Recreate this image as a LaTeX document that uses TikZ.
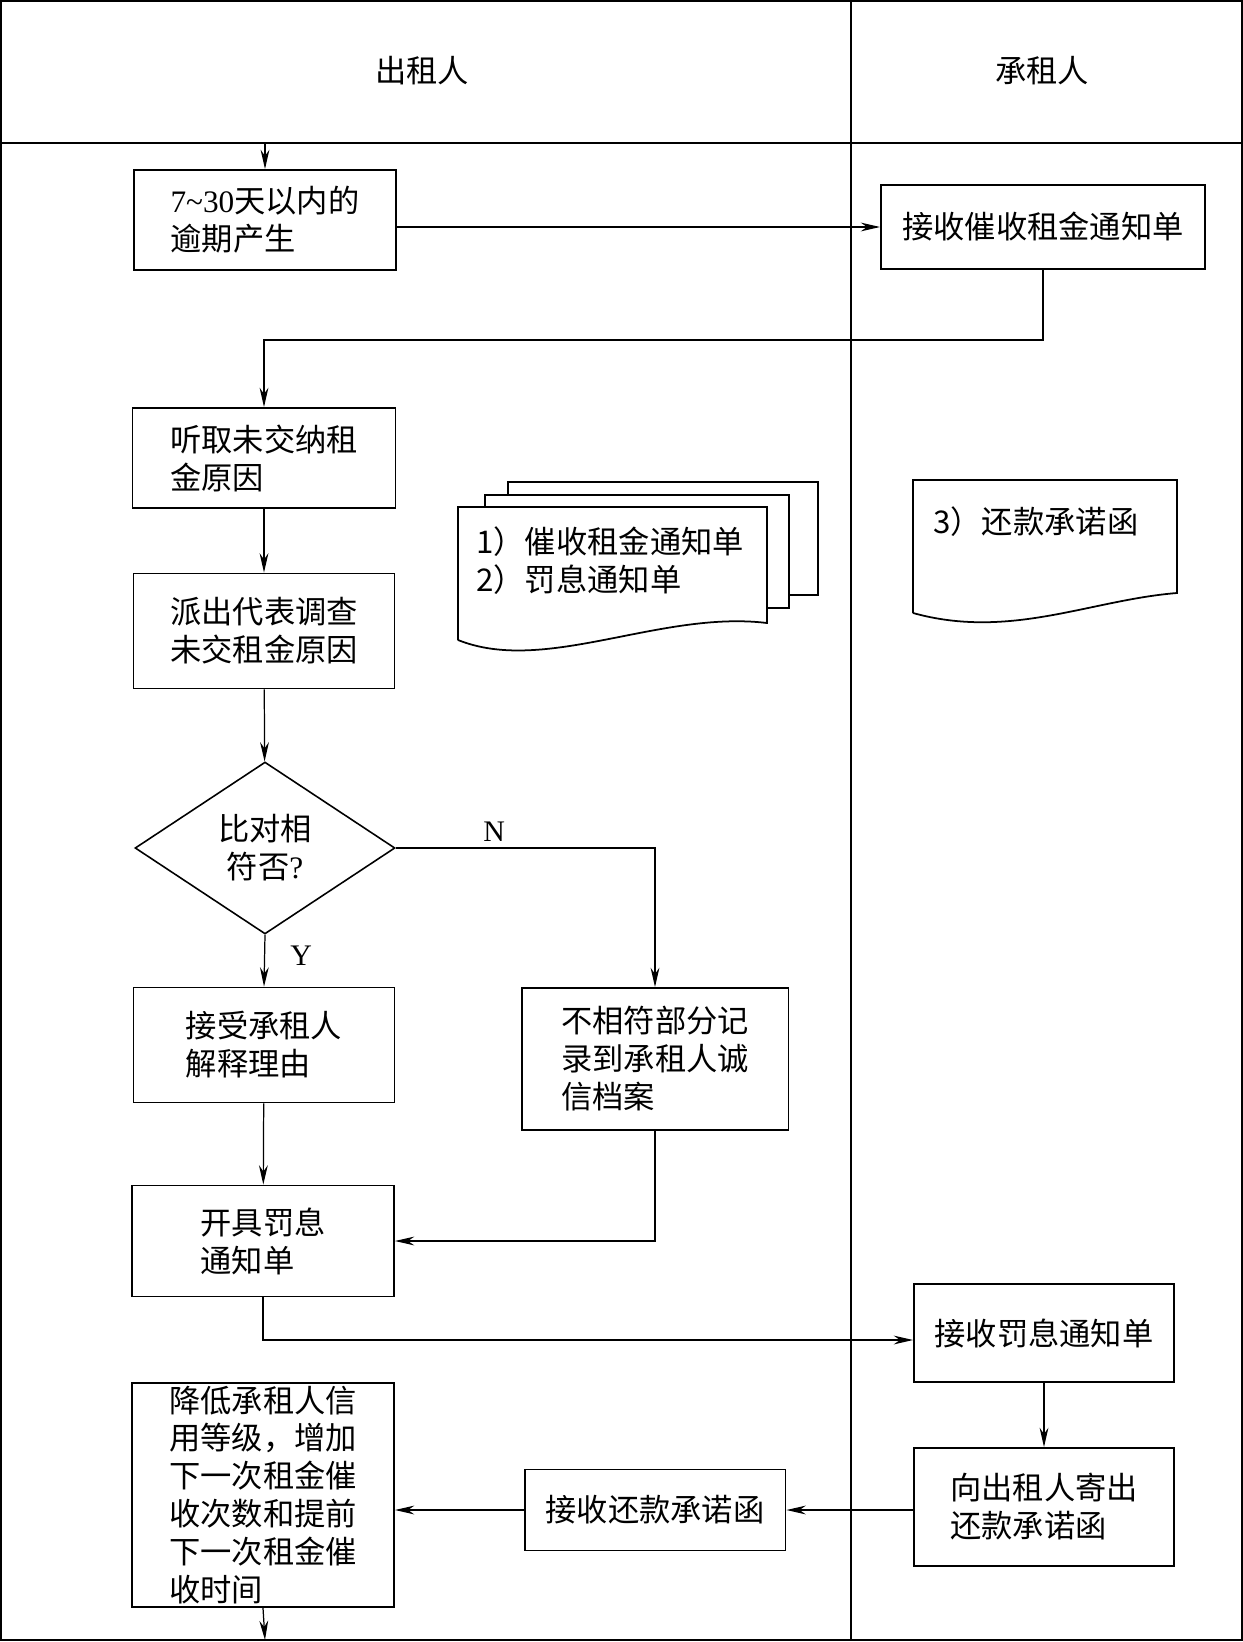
\documentclass[tikz,border=0pt]{standalone}
\usepackage{fontspec}
\setmainfont{Noto Sans CJK SC}
\newfontfamily\latinfont{Liberation Serif}
\usetikzlibrary{positioning,shapes.geometric,arrows.meta}

\begin{document}
\begin{tikzpicture}[x=0.02cm, y=-0.02cm,
    procbox/.style={rectangle, draw, line width=1.1pt, align=left, inner sep=0pt, font=\fontsize{17.8}{21.6}\selectfont},
    decision/.style={diamond, draw, line width=0.9pt, inner sep=0pt, align=center, minimum width=5.2cm, minimum height=3.44cm, font=\fontsize{17.8}{21.6}\selectfont},
    arrowline/.style={->, >={Stealth[length=11pt,width=5pt]}, line width=0.7pt},
    docline/.style={line width=1pt},
    doctext/.style={anchor=west, align=left, inner sep=0pt, font=\fontsize{17.8}{21.6}\selectfont},
    lanelabel/.style={font=\fontsize{17.8}{21.6}\selectfont},
    yesno/.style={font=\latinfont\fontsize{17}{20}\selectfont}
  ]
    \useasboundingbox (0,0) rectangle (1243,1642);

    % Lanes
    \draw[line width=1.3pt] (1,1) rectangle (1242,1640);
    \draw[line width=1.3pt] (1,143) -- (1242,143);
    \draw[line width=0.8pt] (851,1) -- (851,1640);
    \node (lessor) at (422,71) [lanelabel] {出租人};
    \node (lessee) at (1042,71) [lanelabel] {承租人};

    % Overdue and reminder
    \coordinate (entry) at (265,143);
    \node (overdue) at (265,220) [procbox, minimum width=5.24cm, minimum height=2cm] {{\latinfont 7\textasciitilde30}天以内的\\逾期产生};
    \node (recvnote) at (1043,227) [procbox, minimum width=6.48cm, minimum height=1.68cm] {接收催收租金通知单};
    \draw[arrowline] (entry) -- (overdue.north);
    \draw[arrowline] (overdue.east |- recvnote.west) -- (recvnote.west);

    % Investigation
    \node (listen) at (264,458) [procbox, minimum width=5.26cm, minimum height=2cm] {听取未交纳租\\金原因};
    \node (survey) at (264,631) [procbox, minimum width=5.22cm, minimum height=2.3cm] {派出代表调查\\未交租金原因};
    \node (check) at (265,848) [decision] {比对相\\符否{\latinfont ?}};
    \draw[arrowline] (recvnote.south) -- ++(0,70) -| (listen.north);
    \draw[arrowline] (listen) -- (survey);
    \draw[arrowline] (survey) -- (check);

    % Documents
    \draw[docline] (508,495) -- (508,482) -- (818,482) -- (818,595) -- (789,595);
    \draw[docline] (485,507) -- (485,495) -- (789,495) -- (789,608) -- (767,608);
    \draw[docline] (458,640) -- (458,507) -- (767,507) -- (767,623)
      .. controls (660,610) and (545,675) .. (458,640);
    \node (notices) at (476,561) [doctext] {1）催收租金通知单\\2）罚息通知单};
    \draw[docline] (913,613) -- (913,480) -- (1177,480) -- (1177,593)
      .. controls (1090,600) and (1010,640) .. (913,613);
    \node (promise) at (933,522) [doctext] {3）还款承诺函};

    % Outcomes
    \node (accept) at (264,1045) [procbox, minimum width=5.22cm, minimum height=2.3cm] {接受承租人\\解释理由};
    \node (record) at (655,1059) [procbox, minimum width=5.34cm, minimum height=2.84cm] {不相符部分记\\录到承租人诚\\信档案};
    \node (penalty) at (263,1241) [procbox, minimum width=5.24cm, minimum height=2.22cm] {开具罚息\\通知单};
    \draw[arrowline] (check.south) -- node[yesno, right=11pt, pos=0.4] {Y} (accept.north);
    \draw[arrowline] (check.east) -| node[yesno, above, pos=0.19] {N} (record.north);
    \draw[arrowline] (accept) -- (penalty);
    \draw[arrowline] (record.south) |- (penalty.east);

    % Penalty notice and promise letter
    \node (recvpen) at (1044,1333) [procbox, minimum width=5.2cm, minimum height=1.96cm] {接收罚息通知单};
    \node (sendback) at (1044,1507) [procbox, minimum width=5.2cm, minimum height=2.36cm] {向出租人寄出\\还款承诺函};
    \node (recvprom) at (655,1510) [procbox, minimum width=5.22cm, minimum height=1.62cm] {接收还款承诺函};
    \node (downgrade) at (263,1495) [procbox, minimum width=5.24cm, minimum height=4.48cm] {降低承租人信\\用等级，增加\\下一次租金催\\收次数和提前\\下一次租金催\\收时间};
    \coordinate (exit) at (265,1640);
    \draw[arrowline] (penalty.south) |- ([yshift=-0.14cm]recvpen.west);
    \draw[arrowline] (recvpen) -- (sendback);
    \draw[arrowline] (sendback.west |- recvprom.east) -- (recvprom.east);
    \draw[arrowline] (recvprom.west) -- (downgrade.east |- recvprom.west);
    \draw[arrowline] (downgrade.south) -- (exit);
  \end{tikzpicture}
\end{document}
